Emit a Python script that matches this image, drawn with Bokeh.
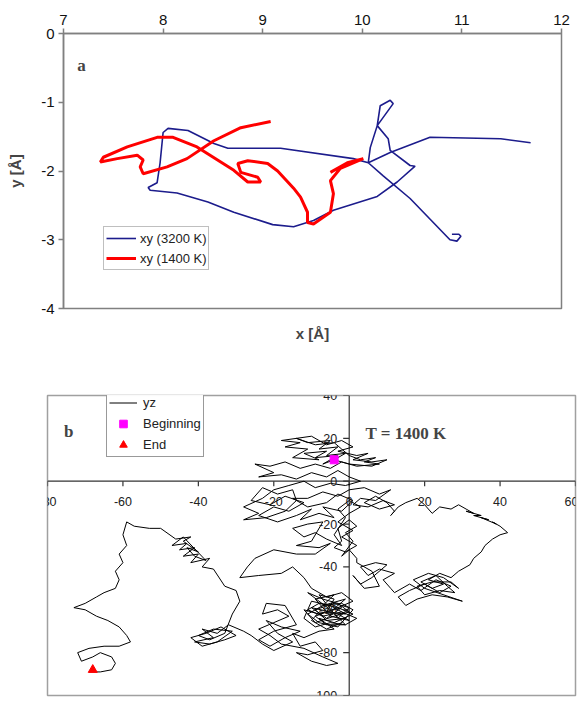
from bokeh.plotting import figure
from bokeh.models import Label, Legend, LegendItem, LinearAxis, FixedTicker, Span
from bokeh.embed import file_html
from bokeh.resources import INLINE
import math

# ---------------- panel a data ----------------
x_3200 = [11.69, 11.39, 10.68, 10.28, 10.06, 10.08, 10.15, 10.31, 10.28, 10.18, 10.15, 10.26, 10.28,
          10.48, 10.53, 10.35, 10.15, 9.71, 9.51, 9.31, 9.10, 8.71, 8.45, 8.14, 7.87, 7.85, 7.94, 7.97,
          8.00, 8.05, 8.25, 8.51, 8.65, 9.18, 9.91, 10.06, 10.21, 10.48, 10.88, 10.95, 10.99, 10.97, 10.90]
y_3200 = [-1.59, -1.53, -1.51, -1.73, -1.88, -1.66, -1.34, -1.02, -0.97, -1.05, -1.34, -1.53, -1.70,
          -1.92, -1.93, -2.16, -2.37, -2.57, -2.72, -2.81, -2.78, -2.60, -2.45, -2.32, -2.28, -2.24, -2.17, -1.88,
          -1.44, -1.38, -1.41, -1.60, -1.67, -1.67, -1.82, -1.88, -2.07, -2.40, -3.00, -3.02, -2.95, -2.92, -2.92]

x_1400 = [9.08, 8.78, 8.51, 8.24, 8.04, 7.80, 7.77, 7.80, 7.74, 7.54, 7.37, 7.40, 7.64, 7.94, 8.10, 8.34,
          8.71, 8.85, 8.98, 8.95, 8.78, 8.75, 8.85, 9.05, 9.15, 9.31, 9.38, 9.45, 9.45, 9.51, 9.68, 9.71,
          9.68, 9.78, 10.01, 9.85, 9.68]
y_1400 = [-1.28, -1.37, -1.56, -1.82, -1.94, -2.04, -1.94, -1.84, -1.77, -1.82, -1.87, -1.80, -1.65, -1.51,
          -1.51, -1.65, -1.99, -2.16, -2.16, -2.09, -2.02, -1.89, -1.85, -1.89, -2.00, -2.25, -2.38, -2.60,
          -2.75, -2.77, -2.60, -2.33, -2.14, -1.96, -1.82, -1.88, -2.02]

a_xticks = [7, 8, 9, 10, 11, 12]
a_yticks = [0, -1, -2, -3, -4]

# ---------------- panel b data (yz trajectory, traced in pieces) ----------------
top1_y = [-4, -7, -3, -9, -6, -12, -8, -15, -11, -17, -13, -18, -10, -6, -2, 1, -3, 2, 5, 1, 6, 10, 6, 0, -4]
top1_z = [10, 8, 12, 11, 14, 13, 10, 11, 15, 16, 18, 19, 21, 17, 19, 16, 14, 12, 13, 10, 9, 10, 7, 8, 10]
top2_y = [-1, -6, -3, -8, -5, -11, -14, -9, -4, -2, 0, 3, 7, 4, 8, 2, -2, -5, -9, -13, -17, -21, -25, -20]
top2_z = [13, 12, 16, 15, 19, 18, 20, 17, 18, 15, 12, 10, 11, 9, 8, 7, 9, 6, 8, 6, 9, 7, 8, 4]
top3_y = [-24, -18, -14, -10, -6, -3, 0, 3, -1, -5, -9, -12, -16, -20, -23, -28, -24, -28, -22, -17, -14, -15]
top3_z = [2, 3, 1, 4, 2, 5, 2, 0, -2, -1, -3, 0, -2, -4, -8, -12, -15, -18, -17, -14, -9, -4]
band_y = [-19, -23, -26, -21, -17, -12, -16, -20, -24, -19, -14, -10, -13, -8, -4, -7, -2, 1, -3, -6, -11, -15]
band_z = [-6, -3, -9, -11, -7, -10, -14, -12, -16, -19, -16, -13, -18, -15, -17, -12, -14, -9, -6, -10, -12, -8]
top4_y = [-11, -7, -3, 0, 4, 8, 11, 7, 3, 1, 5, 9, 12, 8, 4, 7, 10, 12]
top4_z = [-8, -5, -7, -4, -3, -6, -4, -9, -8, -11, -12, -9, -11, -13, -10, -7, -10, -14]
east1_y = [11, 13, 15, 18, 20, 22, 24, 27, 29, 31, 33, 31, 35, 33, 37, 35, 39, 38, 40, 42, 40, 38, 36, 35, 33, 32, 29]
east1_z = [-16, -12, -10, -8, -11, -15, -12, -13, -11, -13, -15, -14, -16, -16, -18, -17, -20, -19, -21, -24, -25,
           -27, -30, -33, -36, -39, -42]
east2_y = [27, 24, 21, 25, 22, 19, 23, 26, 28, 24, 20, 18, 22, 27, 29, 25, 21, 17, 20, 30, 26, 22, 18, 15, 13,
           16, 20, 24, 27, 23, 19, 16, 12]
east2_z = [-45, -43, -46, -48, -50, -47, -44, -49, -52, -51, -53, -49, -47, -47, -50, -45, -43, -46, -50, -56, -54,
           -53, -55, -58, -54, -51, -48, -52, -49, -46, -51, -48, -52]
mid1_y = [11, 9, 12, 8, 5, 3, 7, 10, 6, 3, 1, 4, 8, 6, 2]
mid1_z = [-50, -46, -43, -41, -44, -40, -38, -39, -45, -48, -44, -50, -49, -42, -38]
mid2_y = [2, 0, -2, 1, -1, 2, 0, -3, -2, -4, -1, 2, -2, 1, -3, 0, 3, 0, -3, -1, -4, -2]
mid2_z = [-36, -32, -35, -28, -24, -21, -18, -22, -28, -31, -33, -30, -26, -23, -19, -15, -12, -9, -13, -17, -25, -30]
mid3_y = [-6, -9, -12, -15, -11, -7, -10, -14, -8, -5, -9, -14, -20, -25, -27, -29, -24, -18, -15, -12]
mid3_z = [-27, -24, -26, -22, -20, -19, -28, -30, -31, -29, -34, -34, -32, -36, -40, -45, -44, -43, -40, -45]
dense1_y = [-10, -6, -2, 1, -3, -8, -11, -7, -2, 2, -1, -5, -9, -12, -10, -5, -1, -6, -4, -8, -3, 0,
            -4, -9, -6, -1, -3, -8, -11, -7, -2, 1, -2, -6, -10, -8, -3, 0, -5]
dense1_z = [-50, -54, -52, -56, -59, -57, -60, -63, -61, -64, -67, -66, -68, -64, -56, -58, -62, -61, -55, -53, -64, -59,
            -57, -60, -65, -64, -68, -66, -62, -58, -57, -60, -66, -69, -65, -61, -62, -65, -63]
dense2_y = [-9, -4, -7, -1, -5, -10, -6, -2, -8, -12, -9, -4, 0, -3, -7, -11, -5, -1, -6, -9, -3, 1, -4, -8]
dense2_z = [-55, -53, -58, -55, -61, -59, -64, -59, -62, -60, -66, -63, -61, -57, -55, -52, -60, -67, -67, -63, -59,
            -62, -66, -64]
low1_y = [-4, -8, -12, -15, -13, -9, -7, -11, -14, -10, -6, -3, -7, -12]
low1_z = [-69, -70, -73, -71, -77, -75, -79, -81, -80, -84, -86, -85, -82, -78]
low2_y = [-18, -21, -24, -20, -16, -19, -23, -22, -17, -14, -20, -24, -21, -17, -13, -18, -22, -19, -15, -20, -23, -26]
low2_z = [-76, -72, -69, -66, -63, -60, -62, -57, -58, -67, -70, -74, -77, -73, -70, -68, -65, -71, -75, -79, -76, -72]
tongue_y = [-28, -32, -35, -39, -36, -41, -37, -33, -30, -34, -38, -42, -39, -35, -31, -36, -40, -37, -33]
tongue_z = [-70, -67, -71, -69, -73, -75, -76, -74, -72, -68, -71, -73, -77, -75, -70, -69, -72, -74, -71]
west_y = [-31, -29, -30, -33, -36, -39, -37, -42, -40, -44, -41, -45, -43, -47, -44, -38, -41, -43, -40, -44, -42,
          -46, -50, -53, -57, -59]
west_z = [-62, -56, -51, -49, -41, -40, -36, -38, -34, -35, -31, -32, -29, -30, -26, -37, -35, -31, -33, -28, -26,
          -27, -22, -22, -21, -19]
arm_y = [-60, -59, -61, -60, -62, -61, -62, -65, -67, -70, -73, -70, -67, -64, -61, -59, -58, -61, -65, -69,
         -72, -71, -68, -66, -63, -62, -63, -66, -69, -68]
arm_z = [-25, -30, -34, -38, -42, -46, -50, -52, -54, -57, -59, -60, -63, -65, -68, -72, -75, -77, -77, -78,
         -80, -84, -82, -80, -82, -85, -88, -89, -89, -88]

begin_y = [-4]
begin_z = [10]
end_y = [-68]
end_z = [-88]

b_xticks = [-80, -60, -40, -20, 0, 20, 40, 60]
b_yticks = [40, 20, 0, -20, -40, -60, -80, -100]

y_yz = (top1_y + top2_y + top3_y + band_y + top4_y + east1_y + east2_y + mid1_y + mid2_y + mid3_y + dense1_y
        + dense2_y + low1_y + low2_y + tongue_y + west_y + arm_y)
z_yz = (top1_z + top2_z + top3_z + band_z + top4_z + east1_z + east2_z + mid1_z + mid2_z + mid3_z + dense1_z
        + dense2_z + low1_z + low2_z + tongue_z + west_z + arm_z)
n = min(len(y_yz), len(z_yz))
y_yz, z_yz = y_yz[:n], z_yz[:n]

SANS = "Liberation Sans"
SERIF = "Liberation Serif"

# ---------------- panel a ----------------
p1 = figure(width=572, height=360, x_range=(7, 12), y_range=(-4, 0), x_axis_location="above",
            output_backend="svg", toolbar_location=None,
            min_border_left=63, min_border_right=11, min_border_top=33, min_border_bottom=52)
p1.grid.visible = False
p1.outline_line_color = "#808080"
p1.outline_line_width = 1.5

for ax in (p1.xaxis[0], p1.yaxis[0]):
    ax.axis_line_color = "#808080"
    ax.axis_line_width = 1.5
    ax.major_tick_line_color = "#808080"
    ax.major_tick_line_width = 1.5
    ax.major_tick_out = 5
    ax.major_tick_in = 0
    ax.minor_tick_line_color = None
    ax.major_label_text_font = SANS
    ax.major_label_text_font_size = "15px"
    ax.major_label_text_color = "#111111"
    ax.major_label_standoff = 4
p1.xaxis[0].ticker = FixedTicker(ticks=a_xticks)
p1.yaxis[0].ticker = FixedTicker(ticks=a_yticks)
p1.yaxis[0].major_label_overrides = {t: str(t) for t in a_yticks}
p1.yaxis[0].axis_label = "y [Å]"
p1.yaxis[0].axis_label_text_font = SANS
p1.yaxis[0].axis_label_text_font_style = "bold"
p1.yaxis[0].axis_label_text_font_size = "15px"
p1.yaxis[0].axis_label_standoff = 14

xb = LinearAxis(axis_label="x [Å]", ticker=FixedTicker(ticks=[]), axis_line_color=None,
                major_tick_line_color=None, minor_tick_line_color=None,
                axis_label_text_font=SANS, axis_label_text_font_style="bold",
                axis_label_text_font_size="15px", axis_label_standoff=16)
p1.add_layout(xb, "below")

r_blue = p1.line(x_3200, y_3200, line_color="#1c1c8c", line_width=1.6)
r_red = p1.line(x_1400, y_1400, line_color="#ff0000", line_width=3)

p1.add_layout(Label(x=7.18, y=-0.47, text="a", text_font=SERIF, text_font_style="bold",
                    text_font_size="17px", text_align="center", text_baseline="middle"))

leg1 = Legend(items=[LegendItem(label="xy (3200 K)", renderers=[r_blue]),
                     LegendItem(label="xy (1400 K)", renderers=[r_red])],
              location=(40, 38), border_line_color="#808080", border_line_width=1,
              label_text_font=SANS, label_text_font_size="13px", label_text_color="#222222",
              glyph_width=30, glyph_height=18, label_height=18, spacing=2, padding=2, margin=0,
              label_standoff=4)
p1.add_layout(leg1)

# ---------------- panel b ----------------
p2 = figure(width=580, height=364, x_range=(-80, 60), y_range=(-100, 40),
            x_axis_location=None, y_axis_location=None,
            output_backend="svg", toolbar_location=None,
            min_border_left=47, min_border_right=5, min_border_top=35, min_border_bottom=29)
p2.grid.visible = False
p2.outline_line_color = "#a0a0a0"
p2.outline_line_width = 1.5

# crossing axes through the origin
p2.add_layout(Span(location=0, dimension="width", line_color="#333333", line_width=1.2, level="underlay"))
p2.add_layout(Span(location=0, dimension="height", line_color="#333333", line_width=1.2, level="underlay"))
p2.segment(x0=b_xticks, y0=[0] * len(b_xticks), x1=b_xticks, y1=[-2.4] * len(b_xticks),
           line_color="#333333", line_width=1.2, level="underlay")
p2.segment(x0=[0] * len(b_yticks), y0=b_yticks, x1=[-1.6] * len(b_yticks), y1=b_yticks,
           line_color="#333333", line_width=1.2, level="underlay")
for v in b_xticks:
    p2.add_layout(Label(x=v, y=-9.5, text=str(v), text_font=SANS, text_font_size="12.5px",
                        text_color="#222222", text_align="center", text_baseline="middle",
                        x_offset=(-4 if v == b_xticks[-1] else 0)))
for v in b_yticks:
    p2.add_layout(Label(x=-3.2, y=v, text=str(v), text_font=SANS, text_font_size="12.5px",
                        text_color="#222222", text_align="right", text_baseline="middle"))

r_yz = p2.line(y_yz, z_yz, line_color="black", line_width=1)
r_beg = p2.scatter(begin_y, begin_z, marker="square", size=8, fill_color="#ff00ff", line_color="#ff00ff")
r_end = p2.scatter(end_y, end_z, marker="triangle", size=9, fill_color="#ff0000", line_color="#ff0000")

p2.add_layout(Label(x=-74.4, y=23.3, text="b", text_font=SERIF, text_font_style="bold",
                    text_font_size="17px", text_align="center", text_baseline="middle"))
p2.add_layout(Label(x=4.3, y=22.4, text="T = 1400 K", text_font=SERIF, text_font_style="bold",
                    text_font_size="17px", text_align="left", text_baseline="middle"))
p2.add_layout(Label(x=-10, y=-108.5, text="y [Å]", text_font=SANS, text_font_style="bold",
                    text_font_size="15px", text_align="center", text_baseline="middle"))
p2.add_layout(Label(x=-86.6, y=-30.5, text="z [Å]", text_font=SANS, text_font_style="bold",
                    text_font_size="15px", text_align="center", text_baseline="middle", angle=math.pi / 2))

leg2 = Legend(items=[LegendItem(label="yz", renderers=[r_yz]),
                     LegendItem(label="Beginning", renderers=[r_beg]),
                     LegendItem(label="End", renderers=[r_end])],
              location=(59, 238), border_line_color="#333333", border_line_width=1,
              label_text_font=SANS, label_text_font_size="13px", label_text_color="#222222",
              glyph_width=28, glyph_height=19, label_height=19, spacing=2, padding=2, margin=0,
              label_standoff=6)
p2.add_layout(leg2)

open("out.html", "w").write(file_html([p1, p2], INLINE))
